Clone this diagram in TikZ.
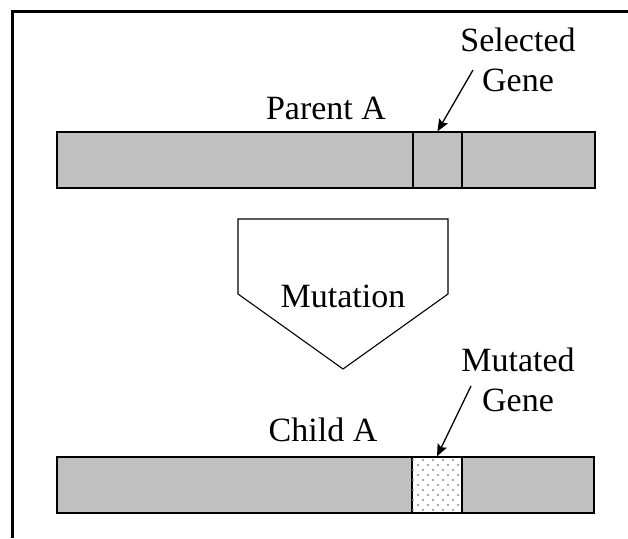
\documentclass[tikz,border=0pt]{standalone}
\usepackage{fontspec}
\setmainfont{Liberation Serif}
\usetikzlibrary{arrows.meta}
\definecolor{barfill}{HTML}{C0C0C0}
\begin{document}
\begin{tikzpicture}[x=1pt,y=1pt,>={Stealth[length=12pt,width=10pt,inset=2pt]},
    font=\fontsize{34}{40}\selectfont,
    bar/.style={draw,line width=1.3pt,fill=barfill,minimum height=56pt,inner sep=0pt},
    lbl/.style={align=center,inner sep=0pt},
    pointer/.style={->,line width=1.3pt}]
    \useasboundingbox (0,0) rectangle (628,538);
    % Khung
    \draw[line width=3pt] (12,0) -- (12,526) -- (628,526);

    % Nhiễm sắc thể cha
    \node[bar,minimum width=538pt] (parentBar) at (326,378) {};
    \node[bar,minimum width=49pt] (selGene) at (437.5,378) {};
    \node[lbl] (parentLbl) at (326,430) {Parent A};
    \node[lbl] (selLbl) at (518,478) {Selected\\Gene};
    \coordinate (selTail) at (473,468);
    \draw[pointer] (selTail) -- (selGene.north);

    % Khối đột biến
    \draw[line width=1.1pt] (238,319) -- (448,319) -- (448,244) -- (343,169) -- (238,244) -- cycle;
    \node[lbl] (mutLbl) at (343,242) {Mutation};

    % Nhiễm sắc thể con
    \node[bar,minimum width=537pt] (childBar) at (325.5,53) {};
    \node[bar,minimum width=50pt,fill=white] (mutGene) at (437,53) {};
    \begin{scope}
      \clip (mutGene.south west) rectangle (mutGene.north east);
      \foreach \r in {0,...,11}
        \foreach \c in {0,...,5}
          \fill[black!45] ({413+10*\c+5*mod(\r,2)},{78-5*\r}) circle (1.1pt);
    \end{scope}
    \draw[line width=1.3pt] (mutGene.south west) rectangle (mutGene.north east);
    \node[lbl] (childLbl) at (323,108) {Child A};
    \node[lbl] (mutLbl2) at (518,158) {Mutated\\Gene};
    \coordinate (mutTail) at (471,152);
    \draw[pointer] (mutTail) -- (mutGene.north);
\end{tikzpicture}
\end{document}
